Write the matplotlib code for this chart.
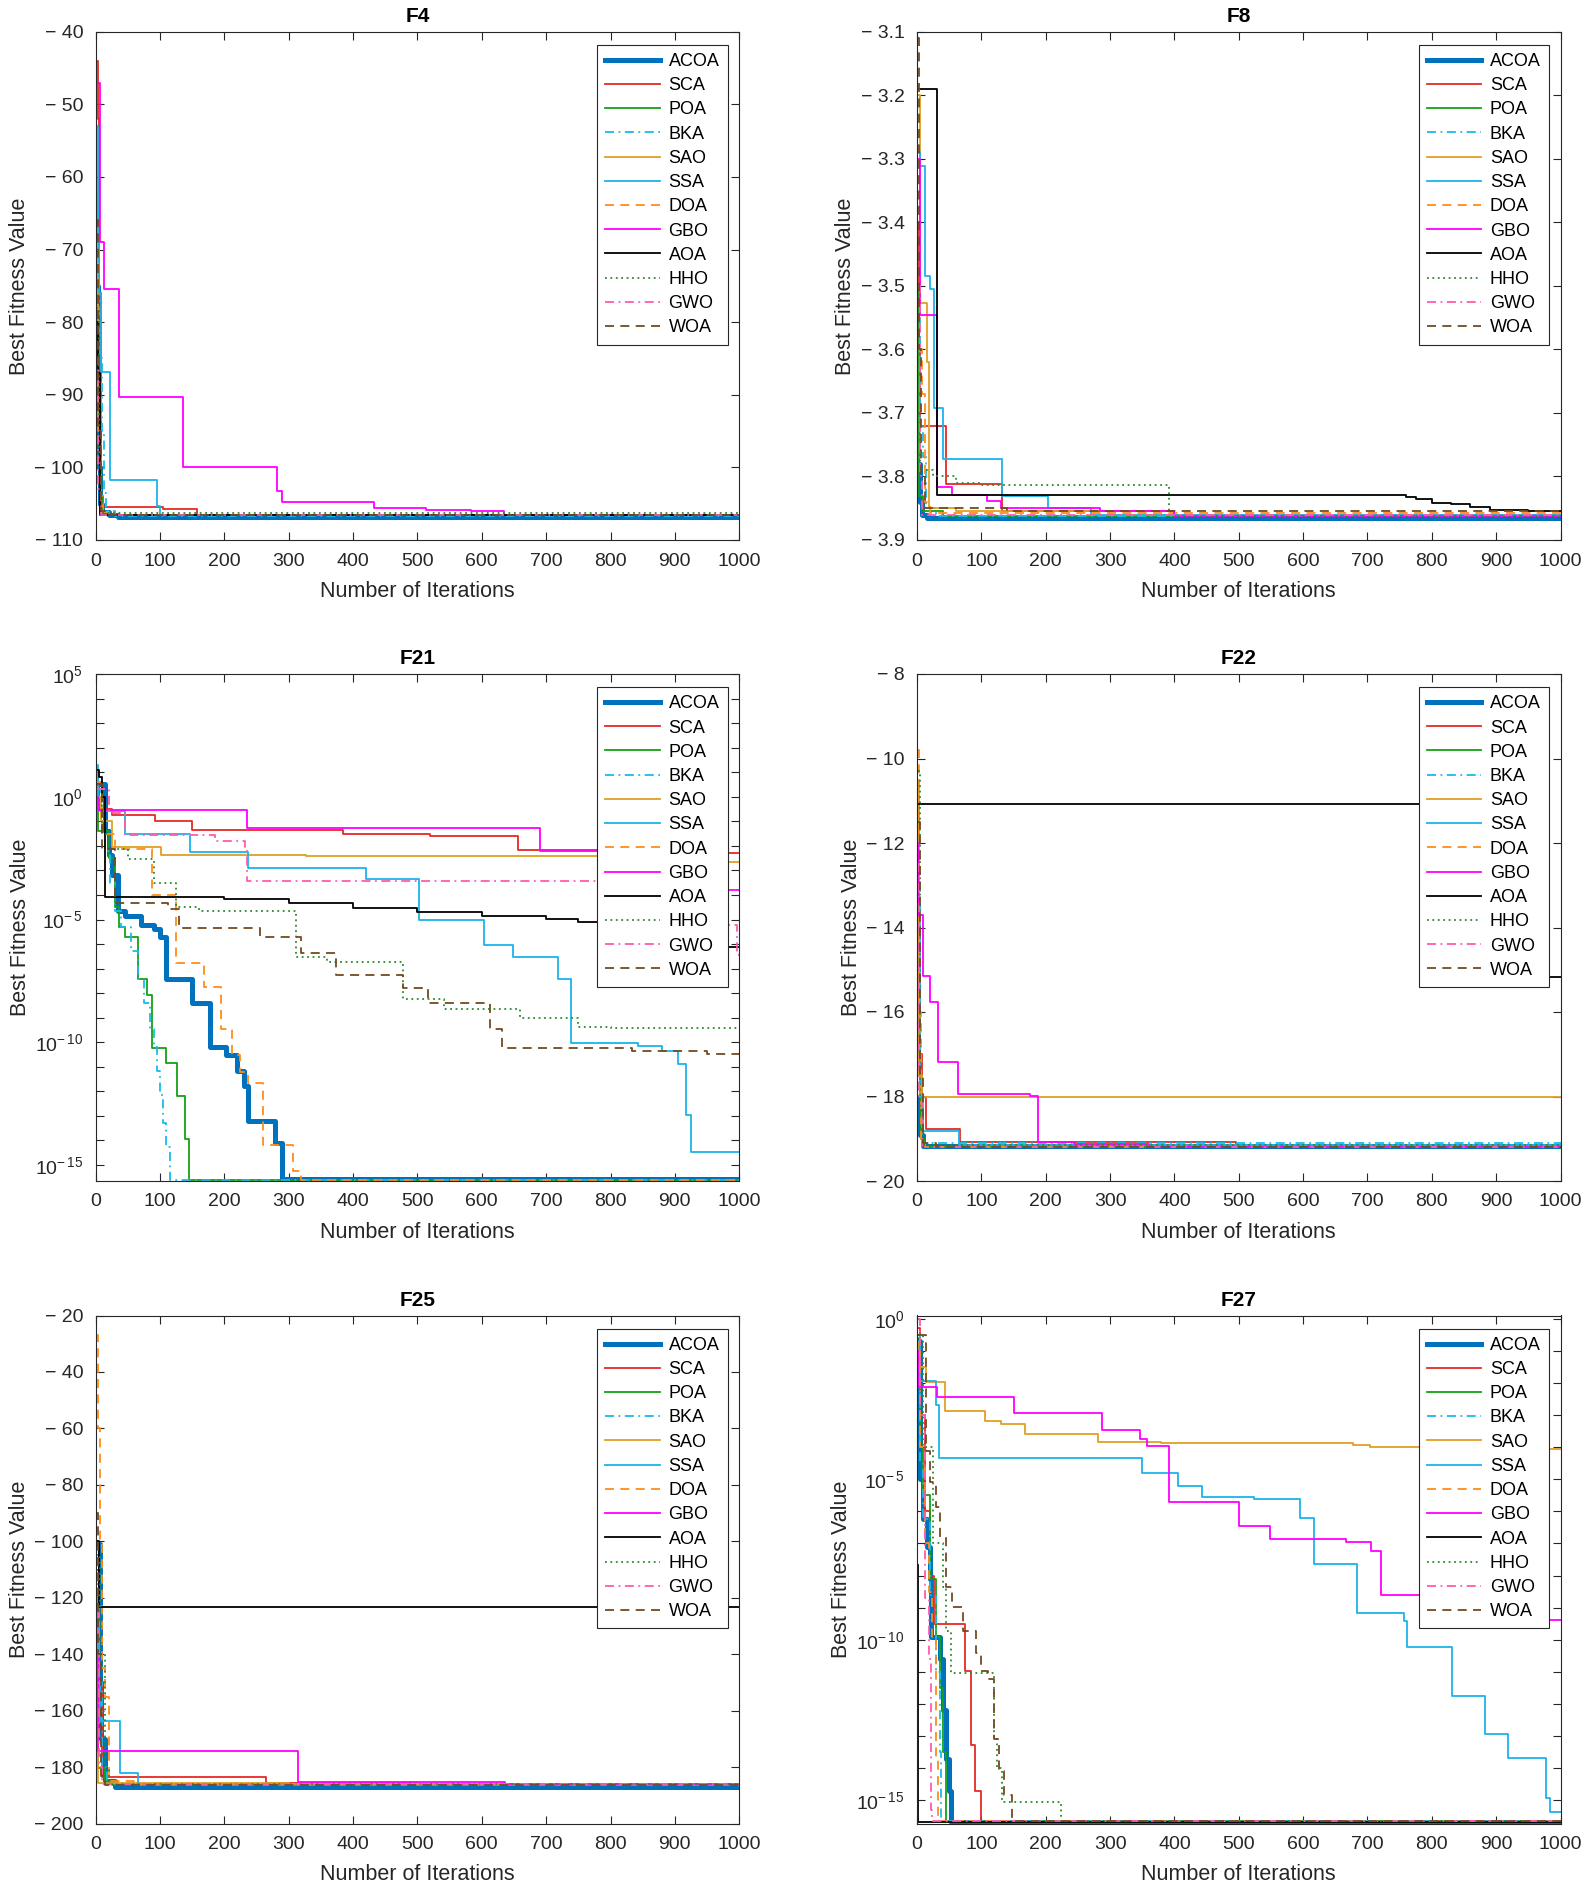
import numpy as np
import matplotlib
matplotlib.use("Agg")
import matplotlib.pyplot as plt
from matplotlib.ticker import FixedLocator, FuncFormatter

plt.rcParams['font.family'] = ['Liberation Sans', 'DejaVu Sans']
plt.rcParams['mathtext.fontset'] = 'custom'
plt.rcParams['mathtext.rm'] = 'Liberation Sans'
plt.rcParams['mathtext.it'] = 'Liberation Sans:italic'
plt.rcParams['mathtext.bf'] = 'Liberation Sans:bold'

# ---------------- data ----------------
ALGORITHMS = ["ACOA", "SCA", "POA", "BKA", "SAO", "SSA", "DOA", "GBO", "AOA", "HHO", "GWO", "WOA"]
FUNCTIONS = ["F4", "F8", "F21", "F22", "F25", "F27"]
X_TICKS = list(range(0, 1001, 100))

# convergence curves: (iteration, best fitness) breakpoints, step-wise
F4 = {
    "ACOA": [(1, -75), (3, -100), (6, -105), (10, -106.2), (20, -106.6), (35, -106.8), (1000, -106.8)],
    "SCA": [(1, -44), (3, -52), (5, -76), (8, -105.5), (104, -105.7), (158, -106.6), (1000, -106.6)],
    "POA": [(1, -68), (4, -90), (7, -104), (12, -106.5), (1000, -106.7)],
    "BKA": [(1, -70), (5, -85), (10, -95), (13, -103.5), (16, -106), (30, -106.7), (1000, -106.7)],
    "SAO": [(1, -62), (3, -95), (6, -106.2), (20, -106.5), (1000, -106.5)],
    "SSA": [(1, -53), (3, -68), (5, -76), (9, -86.8), (22, -101.8), (95, -105.3), (100, -106.5), (1000, -106.6)],
    "DOA": [(1, -72), (4, -88), (8, -104), (12, -106.5), (1000, -106.7)],
    "GBO": [(1, -47), (6, -69), (13, -75.5), (36, -90.3), (135, -100), (282, -103.3), (290, -104.8),
            (432, -105.6), (513, -105.9), (583, -106.0), (634, -106.6), (1000, -106.6)],
    "AOA": [(1, -80), (3, -87), (6, -106.5), (1000, -106.6)],
    "HHO": [(1, -78), (5, -100), (10, -106.3), (1000, -106.6)],
    "GWO": [(1, -85), (4, -103), (8, -106.6), (1000, -106.7)],
    "WOA": [(1, -66), (4, -95), (8, -106), (14, -106.5), (1000, -106.6)],
}

F8 = {
    "ACOA": [(1, -3.78), (4, -3.84), (8, -3.86), (15, -3.865), (1000, -3.866)],
    "SCA": [(1, -3.4), (3, -3.6), (5, -3.72), (45, -3.812), (132, -3.855), (400, -3.86), (1000, -3.86)],
    "POA": [(1, -3.5), (3, -3.83), (10, -3.855), (40, -3.862), (1000, -3.862)],
    "BKA": [(1, -3.55), (5, -3.72), (10, -3.77), (14, -3.85), (30, -3.862), (1000, -3.862)],
    "SAO": [(1, -3.2), (4, -3.527), (15, -3.62), (18, -3.85), (60, -3.855), (300, -3.86), (1000, -3.86)],
    "SSA": [(1, -3.29), (4, -3.312), (13, -3.485), (20, -3.505), (26, -3.693), (41, -3.772), (132, -3.831),
            (203, -3.85), (270, -3.86), (1000, -3.862)],
    "DOA": [(1, -3.6), (7, -3.67), (12, -3.84), (20, -3.858), (1000, -3.861)],
    "GBO": [(1, -3.3), (5, -3.546), (31, -3.816), (54, -3.829), (109, -3.838), (131, -3.85), (284, -3.855),
            (400, -3.862), (1000, -3.862)],
    "AOA": [(1, -3.19), (31, -3.829), (747, -3.829), (760, -3.832), (775, -3.836), (800, -3.842), (830, -3.844),
            (860, -3.848), (890, -3.852), (950, -3.854), (1000, -3.855)],
    "HHO": [(1, -3.7), (5, -3.79), (25, -3.80), (60, -3.811), (100, -3.814), (392, -3.862), (1000, -3.862)],
    "GWO": [(1, -3.5), (4, -3.8), (8, -3.86), (1000, -3.862)],
    "WOA": [(1, -3.11), (3, -3.6), (6, -3.8), (12, -3.85), (140, -3.855), (1000, -3.855)],
}

# log10 of best fitness
F21_LOG10 = {
    "ACOA": [(1, 0.5), (14, -1.38), (20, -2.36), (25, -3.18), (34, -4.64), (45, -4.84), (70, -5.21), (90, -5.37),
             (100, -5.7), (109, -7.41), (149, -8.39), (177, -10.18), (203, -10.5), (220, -11.16), (230, -11.8),
             (236, -13.19), (279, -14.1), (290, -15.55), (1000, -15.55)],
    "SCA": [(1, 0.5), (5, -0.49), (26, -0.73), (92, -0.98), (150, -1.34), (384, -1.5), (519, -1.6), (657, -2.17),
            (900, -2.28), (1000, -2.28)],
    "POA": [(1, 0.3), (3, -1.38), (20, -2.5), (30, -4.5), (36, -5.29), (46, -5.7), (66, -7.41), (79, -8.06),
            (88, -10.23), (109, -10.83), (127, -12.18), (139, -13.93), (145, -15.62), (1000, -15.62)],
    "BKA": [(1, 0.3), (8, -1.0), (15, -2.2), (22, -3.5), (30, -4.64), (40, -5.3), (55, -6.27), (65, -7.41),
            (75, -8.39), (85, -9.45), (90, -10.18), (95, -11.16), (100, -12.13), (105, -13.27), (110, -14.25),
            (115, -15.62), (1000, -15.62)],
    "SAO": [(1, 0.0), (8, -1.0), (25, -2.04), (101, -2.39), (327, -2.41), (900, -2.65), (1000, -2.65)],
    "SSA": [(1, 1.3), (3, -0.57), (46, -1.51), (146, -2.25), (237, -2.9), (420, -3.34), (503, -5.02), (604, -6.04),
            (648, -6.51), (719, -7.41), (739, -10.02), (842, -10.15), (880, -10.34), (905, -10.9), (917, -12.95),
            (925, -14.45), (1000, -14.45)],
    "DOA": [(1, 0.6), (10, -1.5), (30, -2.12), (88, -3.99), (125, -6.76), (169, -7.74), (194, -9.45), (212, -10.5),
            (225, -11.2), (236, -11.64), (260, -14.17), (307, -15.23), (319, -15.62), (1000, -15.62)],
    "GBO": [(1, 0.0), (3, -0.54), (235, -1.27), (691, -2.2), (900, -3.79), (1000, -3.79)],
    "AOA": [(1, 1.1), (5, 0.8), (10, 0.0), (14, -4.07), (153, -4.07), (200, -4.15), (300, -4.32), (400, -4.53),
            (500, -4.69), (600, -4.84), (700, -4.97), (750, -5.1), (800, -5.33), (850, -5.6), (900, -5.9),
            (950, -6.1), (1000, -6.1)],
    "HHO": [(1, 0.3), (10, -1.5), (20, -2.12), (50, -2.52), (90, -3.53), (125, -4.48), (160, -4.64), (311, -6.51),
            (359, -6.72), (477, -8.22), (541, -8.63), (660, -9.0), (750, -9.36), (800, -9.41), (1000, -9.41)],
    "GWO": [(1, 0.3), (20, -0.65), (45, -1.55), (185, -1.79), (232, -2.17), (235, -3.42), (900, -5.21),
            (997, -6.43), (1000, -6.43)],
    "WOA": [(1, 0.5), (10, -2.12), (30, -4.32), (113, -4.56), (130, -5.33), (256, -5.7), (319, -6.35), (374, -7.25),
            (477, -7.78), (517, -8.39), (612, -9.45), (632, -10.23), (834, -10.34), (950, -10.46), (1000, -10.46)],
}

F22 = {
    "ACOA": [(1, -18.0), (4, -18.9), (9, -19.18), (1000, -19.18)],
    "SCA": [(1, -12), (3, -17.0), (8, -18.0), (14, -18.77), (67, -19.08), (496, -19.2), (1000, -19.2)],
    "POA": [(1, -11), (3, -17), (6, -19), (12, -19.2), (1000, -19.21)],
    "BKA": [(1, -13), (4, -18), (8, -19.1), (1000, -19.2)],
    "SAO": [(1, -10.5), (3, -17.5), (8, -18.01), (1000, -18.01)],
    "SSA": [(1, -14), (4, -18), (10, -18.82), (66, -19.15), (1000, -19.17)],
    "DOA": [(1, -9.8), (3, -16), (6, -19), (12, -19.2), (1000, -19.22)],
    "GBO": [(1, -12), (2, -13.7), (9, -15.14), (20, -15.77), (32, -17.18), (63, -17.94), (175, -17.98),
            (188, -19.08), (244, -19.12), (360, -19.2), (1000, -19.2)],
    "AOA": [(1, -11.07), (900, -15.17), (1000, -15.17)],
    "HHO": [(1, -10.3), (4, -18.5), (10, -19.15), (1000, -19.2)],
    "GWO": [(1, -12.5), (3, -18), (8, -19.2), (1000, -19.21)],
    "WOA": [(1, -11.5), (4, -17.5), (10, -19.1), (30, -19.2), (1000, -19.22)],
}

F25 = {
    "ACOA": [(1, -101), (6, -150), (9, -170), (14, -185), (30, -187), (1000, -187.2)],
    "SCA": [(1, -110), (5, -150), (10, -183.7), (265, -185.5), (500, -186), (1000, -186)],
    "POA": [(1, -130), (4, -180.4), (15, -185), (25, -186.5), (1000, -186.7)],
    "BKA": [(1, -115), (5, -150), (10, -180), (18, -186), (1000, -186.5)],
    "SAO": [(1, -120), (3, -185.5), (300, -186), (1000, -186)],
    "SSA": [(1, -120), (3, -150), (6, -163.6), (38, -182), (66, -186.5), (1000, -186.6)],
    "DOA": [(1, -27), (4, -60), (7, -100), (10, -145), (15, -155.3), (21, -185), (60, -186), (1000, -186.3)],
    "GBO": [(1, -140), (3, -174.2), (315, -185.3), (636, -185.9), (1000, -185.9)],
    "AOA": [(1, -100), (5, -123.2), (1000, -123.4)],
    "HHO": [(1, -105), (6, -125), (9, -140), (14, -180), (20, -186), (1000, -186.5)],
    "GWO": [(1, -125), (5, -180), (10, -186), (1000, -186.2)],
    "WOA": [(1, -90), (4, -140), (8, -183), (15, -186.5), (1000, -186.7)],
}

F27_LOG10 = {
    "ACOA": [(1, -0.7), (5, -5), (10, -6.24), (15, -7.1), (20, -8.1), (22, -9.91), (35, -10.6), (40, -12.2),
             (45, -13.7), (49, -14.7), (53, -15.66), (1000, -15.66)],
    "SCA": [(1, -0.3), (5, -3), (12, -6), (20, -8), (26, -9.5), (74, -10.97), (84, -13.27), (90, -14.7),
            (100, -15.64), (1000, -15.64)],
    "POA": [(1, -0.6), (5, -4), (10, -5.5), (20, -8.1), (30, -9.9), (35, -11.5), (40, -13.5), (45, -15.64),
            (1000, -15.64)],
    "BKA": [(1, -0.5), (5, -4.5), (10, -6.24), (20, -8.6), (30, -11), (35, -13.5), (38, -15.64), (1000, -15.64)],
    "SAO": [(1, -0.77), (3, -1.49), (14, -1.98), (44, -2.86), (105, -3.2), (131, -3.28), (168, -3.59), (281, -3.84),
            (379, -3.88), (677, -3.94), (704, -3.98), (950, -4.07), (1000, -4.07)],
    "SSA": [(1, -0.7), (5, -1.93), (30, -2.7), (34, -4.34), (349, -4.81), (405, -5.22), (443, -5.56), (523, -5.62),
            (595, -6.22), (617, -7.64), (683, -9.17), (757, -9.42), (762, -10.22), (832, -11.74), (883, -12.94),
            (918, -13.68), (977, -14.93), (984, -15.36), (1000, -15.36)],
    "DOA": [(1, -1), (5, -4), (12, -7), (18, -8.5), (23, -9.98), (30, -13.7), (33, -15.64), (1000, -15.64)],
    "GBO": [(1, -1), (2, -2.14), (31, -2.43), (150, -2.94), (288, -3.47), (347, -3.76), (357, -3.97), (392, -5.71),
            (501, -6.47), (549, -6.87), (666, -6.94), (705, -7.24), (721, -8.61), (900, -9.38), (1000, -9.38)],
    "AOA": [(1, -7.67), (2, -15.66), (1000, -15.66)],
    "HHO": [(1, -0.5), (10, -4), (25, -7), (41, -8.36), (45, -9.73), (53, -11.03), (119, -13.08), (125, -14),
            (132, -15.05), (224, -15.64), (1000, -15.64)],
    "GWO": [(1, 0.0), (5, -3), (12, -8.7), (18, -10.6), (22, -15.3), (24, -15.64), (1000, -15.64)],
    "WOA": [(1, -0.5), (14, -4.13), (20, -5.1), (30, -5.87), (35, -6.8), (45, -8.36), (55, -8.98), (72, -9.73),
            (92, -10.41), (100, -10.97), (111, -11.22), (119, -13.08), (127, -14.08), (135, -14.83), (147, -15.64),
            (1000, -15.64)],
}

# y-axis settings per panel
F4_YLIM, F4_YTICKS = (-110, -40), list(range(-110, -39, 10))
F8_YLIM, F8_YTICKS = (-3.9, -3.1), [-3.9, -3.8, -3.7, -3.6, -3.5, -3.4, -3.3, -3.2, -3.1]
F21_YLIM_LOG10 = (-15.65, 5)
F22_YLIM, F22_YTICKS = (-20, -8), list(range(-20, -7, 2))
F25_YLIM, F25_YTICKS = (-200, -20), list(range(-200, -19, 20))
F27_YLIM_LOG10 = (-15.72, 0.1)

# ---------------- styles ----------------
COLORS = ["#0072BD", "#E52A25", "#15A015", "#16BCEB", "#DDA025", "#1BB3EA",
          "#FF8C1A", "#FF00FF", "#000000", "#2B8A2B", "#FF5BAA", "#734A22"]
STYLES = ["-", "-", "-", (0, (5, 2.5, 1, 2.5)), "-", "-", (0, (5, 3.5)), "-", "-",
          (0, (1, 2)), (0, (5, 2.5, 1, 2.5)), (0, (5, 3.5))]
WIDTHS = [3.6] + [1.3] * 11
AXCOL = "#262626"

W, H = 1588, 1888
fig = plt.figure(figsize=(W / 100, H / 100), dpi=100)

col_left = [95.7 / W, 917 / W]
ax_w = 643.5 / W
rows = [(31.7, 540), (674, 1181), (1315.5, 1823.5)]


def neg_fmt(v, pos):
    v = round(v, 6)
    s = f"{abs(v):g}"
    return ("\u2212 " + s) if v < 0 else s


def log_fmt(v, pos):
    k = int(round(np.log10(v)))
    if k % 5 != 0:
        return ""
    if k < 0:
        return r"$\mathregular{10^{-\,%d}}$" % (-k)
    return r"$\mathregular{10^{%d}}$" % k


panels = [
    ("F4", F4, False, F4_YLIM, F4_YTICKS),
    ("F8", F8, False, F8_YLIM, F8_YTICKS),
    ("F21", F21_LOG10, True, F21_YLIM_LOG10, None),
    ("F22", F22, False, F22_YLIM, F22_YTICKS),
    ("F25", F25, False, F25_YLIM, F25_YTICKS),
    ("F27", F27_LOG10, True, F27_YLIM_LOG10, None),
]

for i, (name, data, is_log, ylim, yticks) in enumerate(panels):
    r, c = divmod(i, 2)
    top, bot = rows[r]
    ax = fig.add_axes([col_left[c], 1 - bot / H, ax_w, (bot - top) / H])
    for j, alg in enumerate(ALGORITHMS):
        pts = data[alg]
        xs = [p[0] for p in pts]
        ys = [p[1] for p in pts]
        if is_log:
            ys = [10.0 ** v for v in ys]
        ax.plot(xs, ys, drawstyle="steps-post", color=COLORS[j], linestyle=STYLES[j],
                linewidth=WIDTHS[j], label=alg)
    ax.set_xlim(0, 1000)
    ax.xaxis.set_major_locator(FixedLocator(X_TICKS))
    if is_log:
        ax.set_yscale("log")
        ax.set_ylim(10 ** ylim[0], 10 ** ylim[1])
        ks = range(int(np.ceil(ylim[0])), int(np.floor(ylim[1])) + 1)
        ax.yaxis.set_major_locator(FixedLocator([10.0 ** k for k in ks]))
        ax.yaxis.set_minor_locator(FixedLocator([]))
        ax.yaxis.set_major_formatter(FuncFormatter(log_fmt))
    else:
        ax.set_ylim(*ylim)
        ax.yaxis.set_major_locator(FixedLocator(yticks))
        ax.yaxis.set_major_formatter(FuncFormatter(neg_fmt))
    ax.tick_params(direction="in", top=True, right=True, length=6, width=0.8,
                   labelsize=14, colors=AXCOL, labelcolor=AXCOL, pad=9)
    for sp in ax.spines.values():
        sp.set_color(AXCOL)
        sp.set_linewidth(0.8)
    ax.set_title(name, fontsize=15, fontweight="bold", pad=7)
    ax.set_xlabel("Number of Iterations", fontsize=15.5, color=AXCOL, labelpad=8)
    ax.set_ylabel("Best Fitness Value", fontsize=15.5, color=AXCOL, labelpad=3)
    leg = ax.legend(loc="upper right", bbox_to_anchor=(0.982, 0.974), borderaxespad=0,
                    fontsize=13, handlelength=3.0, labelspacing=0.4, frameon=True,
                    fancybox=False, edgecolor=AXCOL, framealpha=1, borderpad=0.45,
                    handletextpad=0.5)
    leg.get_frame().set_linewidth(0.8)

fig.savefig("out.png", dpi=100)
